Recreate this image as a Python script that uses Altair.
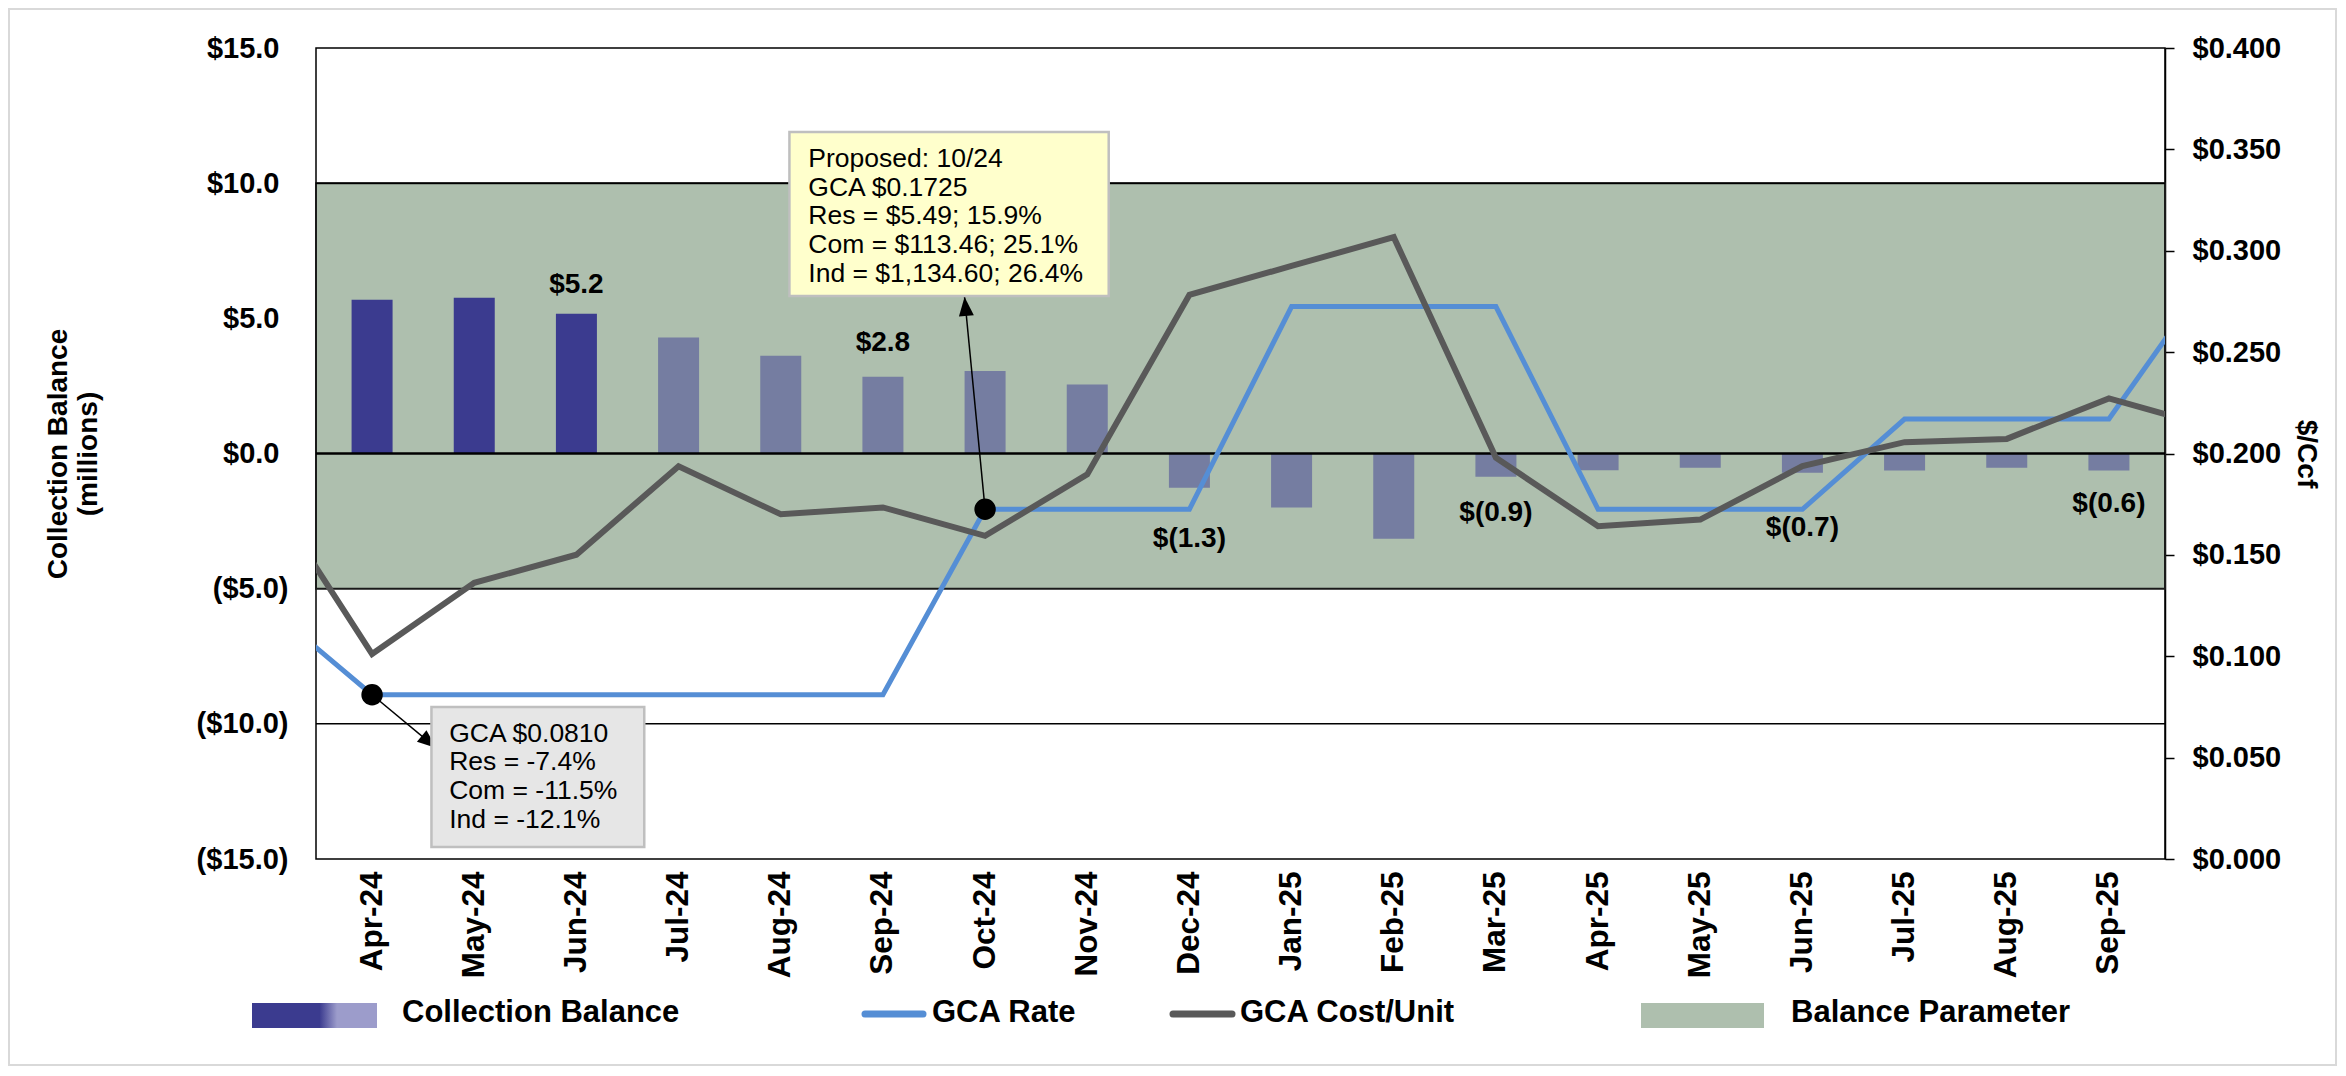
import math
import altair as alt
import pandas as pd

# ---------------- data ----------------
months = ["Apr-24", "May-24", "Jun-24", "Jul-24", "Aug-24", "Sep-24", "Oct-24", "Nov-24", "Dec-24",
          "Jan-25", "Feb-25", "Mar-25", "Apr-25", "May-25", "Jun-25", "Jul-25", "Aug-25", "Sep-25"]
balance = [5.69, 5.76, 5.17, 4.29, 3.62, 2.84, 3.05, 2.55, -1.27, -2.00, -3.15, -0.86,
           -0.62, -0.53, -0.71, -0.63, -0.53, -0.63]
balance_status = ["Actual"] * 3 + ["Projected"] * 15

# line series also carry the months just outside the window (cut at the plot edge)
line_months = ["Mar-24"] + months + ["Oct-25"]
gca_rate = [0.1234, 0.0810, 0.0810, 0.0810, 0.0810, 0.0810, 0.0810, 0.1725, 0.1725, 0.1725,
            0.2725, 0.2725, 0.2725, 0.1725, 0.1725, 0.1725, 0.2170, 0.2170, 0.2170, 0.2884]
gca_cost = [0.1791, 0.1011, 0.1362, 0.1501, 0.1937, 0.1700, 0.1734, 0.1594, 0.1897, 0.2783,
            0.2925, 0.3067, 0.1979, 0.1641, 0.1674, 0.1938, 0.2056, 0.2072, 0.2272, 0.2130]

band_low, band_high = -5.0, 10.0
grid_values = [-10.0, 10.0]

labeled_months = ["Jun-24", "Sep-24", "Dec-24", "Mar-25", "Jun-25", "Sep-25"]
dot_months = ["Apr-24", "Oct-24"]

proposed_lines = ["Proposed: 10/24", "GCA $0.1725", "Res = $5.49; 15.9%",
                  "Com = $113.46; 25.1%", "Ind = $1,134.60; 26.4%"]
current_lines = ["GCA $0.0810", "Res = -7.4%", "Com = -11.5%", "Ind = -12.1%"]

legend_names = ["Collection Balance", "GCA Rate", "GCA Cost/Unit", "Balance Parameter"]

# ---------------- layout / style ----------------
W, H = 1849, 811
FONT = "Liberation Sans"
DARK = "#3B3B8F"
LIGHT = "#757DA1"
LIGHT_LEG = "#9C9CCB"
GREEN = "#AEBFAE"
BLUE = "#558ED5"
GRAY = "#595959"

label_y = [6.24, 4.09, -3.15, -2.21, -2.76, -1.87]          # label centres (left axis units)
proposed_box = dict(x0=4.085, x1=7.21, y0=0.3586, y1=0.2777, tx=4.27, ty=0.3412)
current_box = dict(x0=0.581, x1=2.664, y0=0.0750, y1=0.0059, tx=0.755, ty=0.05785)
arrow_tips = {"Oct-24": (5.799, 0.2772), "Apr-24": (0.629, 0.0547)}


def xs():
    return alt.Scale(domain=[-0.5, 17.5], nice=False, zero=False)


def yl():
    return alt.Scale(domain=[-15, 15], nice=False, zero=False)


def yr():
    return alt.Scale(domain=[0, 0.4], nice=False, zero=False)


def px(i):
    return (i + 0.5) / 18 * W


def pyr(v):
    return H - v / 0.4 * H


def money(v):
    return f"${v:.1f}" if v >= 0 else f"$({abs(v):.1f})"


bar_df = pd.DataFrame({"idx": list(range(18)), "month": months,
                       "balance": balance, "status": balance_status})
line_df = pd.DataFrame({"idx": list(range(-1, 19)), "month": line_months,
                        "rate": gca_rate, "cost": gca_cost})

x_label_expr = "[" + ",".join(f"'{m}'" for m in months) + "][datum.value]"
yl_label_expr = ("datum.value < 0 ? '($' + format(-datum.value, '.1f') + ')' : "
                 "'$' + format(datum.value, '.1f')")

x_axis = alt.Axis(values=list(range(18)), labelExpr=x_label_expr, labelAngle=-90,
                  ticks=False, tickSize=0, domain=False, grid=False, title=None,
                  labelFontSize=31.5, labelFontWeight="bold", labelColor="black",
                  labelPadding=12, labelFont=FONT, labelOverlap=False)


def X(field):
    return alt.X(field, scale=xs(), axis=x_axis)


yl_axis = alt.Axis(orient="left", values=[-15, -10, -5, 0, 5, 10, 15], labelExpr=yl_label_expr,
                   ticks=False, tickSize=0, domain=False, grid=False,
                   labelFontSize=29, labelFontWeight="bold", labelColor="black",
                   labelPadding={"condition": {"test": "datum.value < 0", "value": 28},
                                 "value": 37},
                   labelFont=FONT,
                   title=["Collection Balance", "(millions)"], titleFontSize=28,
                   titleFontWeight="bold", titleColor="black", titleFont=FONT,
                   titleX=-258, titleY=H / 2, titleAngle=270, titleBaseline="middle",
                   titleAlign="center", titleLineHeight=30)

yr_axis = alt.Axis(orient="right", values=[0, 0.05, 0.1, 0.15, 0.2, 0.25, 0.3, 0.35, 0.4],
                   format="$.3f", ticks=True, tickSize=9, tickColor="black", tickWidth=1.5,
                   domain=True, domainColor="black", domainWidth=1.5, grid=False,
                   labelFontSize=29, labelFontWeight="bold", labelColor="black",
                   labelPadding=18, labelFont=FONT,
                   title="$/Ccf", titleFontSize=28, titleFontWeight="bold", titleColor="black",
                   titleFont=FONT, titleX=140, titleY=H / 2, titleAngle=90,
                   titleBaseline="middle", titleAlign="center")

# ---------------- left-axis layers ----------------
band = alt.Chart(pd.DataFrame({"lo": [band_low], "hi": [band_high]})).mark_rect(
    fill=GREEN, stroke="#1a1a1a", strokeWidth=2).encode(
    y=alt.Y("lo:Q", scale=yl(), axis=None), y2="hi:Q")

grid = alt.Chart(pd.DataFrame({"g": grid_values})).mark_rule(
    color="black", strokeWidth=1.5).encode(y=alt.Y("g:Q", scale=yl(), axis=None))

bars = alt.Chart(bar_df).mark_bar(size=41).encode(
    x=X("idx:Q"),
    y=alt.Y("balance:Q", scale=yl(), axis=yl_axis),
    y2=alt.datum(0),
    color=alt.Color("status:N", scale=alt.Scale(domain=["Actual", "Projected"],
                                                range=[DARK, LIGHT]), legend=None))

zero = alt.Chart(pd.DataFrame({"z": [0.0]})).mark_rule(
    color="black", strokeWidth=2.5).encode(y=alt.Y("z:Q", scale=yl(), axis=None))

lab_df = pd.DataFrame({
    "idx": [months.index(m) for m in labeled_months],
    "text": [money(balance[months.index(m)]) for m in labeled_months],
    "ly": label_y})
labels = alt.Chart(lab_df).mark_text(fontSize=28, fontWeight="bold", font=FONT,
                                     color="black", baseline="middle").encode(
    x=X("idx:Q"), y=alt.Y("ly:Q", scale=yl(), axis=None), text="text:N")

# ---------------- right-axis layers ----------------
rate_line = alt.Chart(line_df).mark_line(color=BLUE, strokeWidth=5, clip=True).encode(
    x=X("idx:Q"), y=alt.Y("rate:Q", scale=yr(), axis=yr_axis))
cost_line = alt.Chart(line_df).mark_line(color=GRAY, strokeWidth=6, clip=True).encode(
    x=X("idx:Q"), y=alt.Y("cost:Q", scale=yr(), axis=None))

dot_idx = [months.index(m) for m in dot_months]
dot_df = pd.DataFrame({"idx": dot_idx, "rate": [gca_rate[i + 1] for i in dot_idx],
                       "tx": [arrow_tips[m][0] for m in dot_months],
                       "ty": [arrow_tips[m][1] for m in dot_months]})

arrows = alt.Chart(dot_df).mark_rule(color="black", strokeWidth=1.5).encode(
    x=X("idx:Q"), x2="tx:Q",
    y=alt.Y("rate:Q", scale=yr(), axis=None), y2="ty:Q")

heads = []
for _, r in dot_df.iterrows():
    dx = px(r["tx"]) - px(r["idx"])
    dy = pyr(r["ty"]) - pyr(r["rate"])
    ang = math.degrees(math.atan2(dx, -dy)) % 360
    heads.append(alt.Chart(pd.DataFrame([r])).mark_point(
        shape="M0,0L-0.75,1.9L0.75,1.9Z", filled=True, size=400, color="black",
        opacity=1, angle=ang).encode(
        x=X("tx:Q"), y=alt.Y("ty:Q", scale=yr(), axis=None)))

dots = alt.Chart(dot_df).mark_point(filled=True, size=460, color="black", opacity=1).encode(
    x=X("idx:Q"), y=alt.Y("rate:Q", scale=yr(), axis=None))


def callout(box, lines, fill):
    d = pd.DataFrame({"x0": [box["x0"]], "x1": [box["x1"]], "y0": [box["y0"]],
                      "y1": [box["y1"]], "tx": [box["tx"]], "ty": [box["ty"]],
                      "txt": ["\n".join(lines)]})
    rect = alt.Chart(d).mark_rect(fill=fill, stroke="#BFBFBF", strokeWidth=2.5).encode(
        x=X("x0:Q"), x2="x1:Q",
        y=alt.Y("y0:Q", scale=yr(), axis=None), y2="y1:Q")
    txt = alt.Chart(d).mark_text(align="left", baseline="alphabetic", lineBreak="\n",
                                 lineHeight=28.6, fontSize=26.5, font=FONT,
                                 color="black").encode(
        x=X("tx:Q"), y=alt.Y("ty:Q", scale=yr(), axis=None), text="txt:N")
    return [rect, txt]


one = pd.DataFrame({"k": [0]})
grad = alt.LinearGradient(gradient="linear", x1=0, x2=1, y1=0, y2=0, stops=[
    alt.GradientStop(color=DARK, offset=0), alt.GradientStop(color=DARK, offset=0.54),
    alt.GradientStop(color=LIGHT_LEG, offset=0.68), alt.GradientStop(color=LIGHT_LEG, offset=1)])

legend_layers = [
    alt.Chart(one).mark_rect(fill=grad).encode(
        x=alt.value(-64), x2=alt.value(61), y=alt.value(955), y2=alt.value(980)),
    alt.Chart(one).mark_rule(color=BLUE, strokeWidth=7, strokeCap="round").encode(
        x=alt.value(549), x2=alt.value(607), y=alt.value(966)),
    alt.Chart(one).mark_rule(color=GRAY, strokeWidth=7, strokeCap="round").encode(
        x=alt.value(857), x2=alt.value(916), y=alt.value(966)),
    alt.Chart(one).mark_rect(fill=GREEN).encode(
        x=alt.value(1325), x2=alt.value(1448), y=alt.value(955), y2=alt.value(980)),
]
for name, lx in zip(legend_names, [86, 616, 924, 1475]):
    legend_layers.append(alt.Chart(one).mark_text(
        align="left", baseline="middle", fontSize=31, fontWeight="bold", font=FONT,
        color="black").encode(x=alt.value(lx), y=alt.value(965), text=alt.value(name)))

frame = alt.Chart(one).mark_rect(fill="transparent", stroke="#D9D9D9", strokeWidth=2).encode(
    x=alt.value(-307), x2=alt.value(2020), y=alt.value(-39), y2=alt.value(1017))

layers = [band, grid, bars, zero, labels, rate_line, cost_line, arrows, *heads, dots,
          *callout(proposed_box, proposed_lines, "#FFFFCC"),
          *callout(current_box, current_lines, "#E6E6E6"),
          *legend_layers, frame]

chart = alt.layer(*layers).resolve_scale(y="independent").properties(
    width=W, height=H,
    autosize=alt.AutoSizeParams(type="none"),
    padding={"left": 308, "top": 40, "right": 173, "bottom": 208},
    background="white",
).configure(font=FONT).configure_view(stroke="black", strokeWidth=1.5)

chart.save("out.html", embed_options={"renderer": "svg", "actions": False})
